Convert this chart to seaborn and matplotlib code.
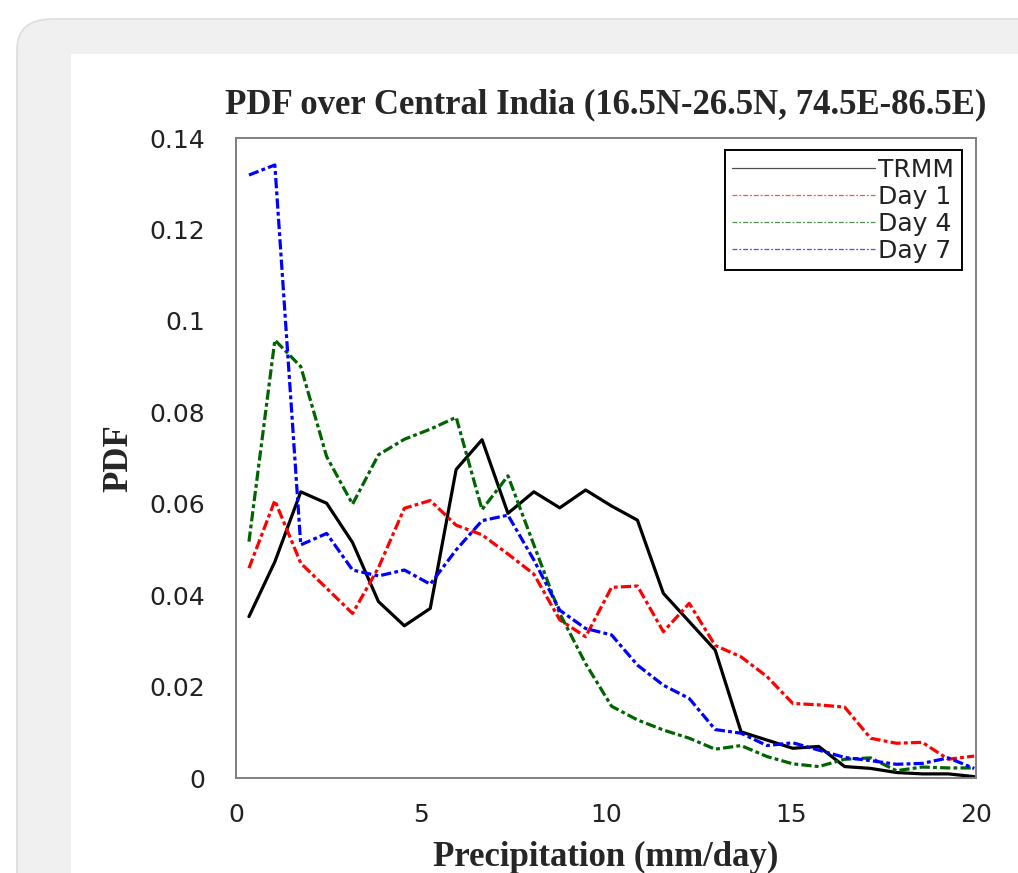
import numpy as np
import pandas as pd
import matplotlib
matplotlib.use('Agg')
import matplotlib.pyplot as plt
import seaborn as sns
from matplotlib.patches import FancyBboxPatch, Rectangle
from matplotlib.lines import Line2D

# precipitation bin centres (mm/day)
precip = [0.35, 1.05, 1.75, 2.45, 3.15, 3.85, 4.55, 5.25, 5.95, 6.65,
          7.35, 8.05, 8.75, 9.45, 10.15, 10.85, 11.55, 12.25, 12.95, 13.65,
          14.35, 15.05, 15.75, 16.45, 17.15, 17.85, 18.55, 19.25, 19.95]

trmm = [0.0353, 0.0473, 0.0626, 0.0601, 0.0515, 0.0386, 0.0333, 0.0371, 0.0675, 0.0740,
        0.0579, 0.0626, 0.0591, 0.0630, 0.0595, 0.0564, 0.0404, 0.0342, 0.0280, 0.0101,
        0.0083, 0.0065, 0.0069, 0.0025, 0.0021, 0.0012, 0.0009, 0.0009, 0.0003]
day1 = [0.0459, 0.0607, 0.0470, 0.0415, 0.0360, 0.0460, 0.0590, 0.0607, 0.0553, 0.0532,
        0.0490, 0.0446, 0.0346, 0.0309, 0.0417, 0.0420, 0.0320, 0.0382, 0.0290, 0.0265,
        0.0222, 0.0163, 0.0160, 0.0155, 0.0087, 0.0076, 0.0078, 0.0041, 0.0048]
day4 = [0.0517, 0.0958, 0.0900, 0.0703, 0.0599, 0.0707, 0.0741, 0.0763, 0.0789, 0.0587,
        0.0661, 0.0510, 0.0360, 0.0250, 0.0157, 0.0127, 0.0105, 0.0087, 0.0063, 0.0071,
        0.0047, 0.0031, 0.0025, 0.0041, 0.0044, 0.0016, 0.0024, 0.0022, 0.0022]
day7 = [0.1319, 0.1341, 0.0510, 0.0535, 0.0455, 0.0442, 0.0455, 0.0424, 0.0499, 0.0563,
        0.0575, 0.0477, 0.0367, 0.0327, 0.0313, 0.0247, 0.0203, 0.0174, 0.0106, 0.0098,
        0.0071, 0.0077, 0.0061, 0.0045, 0.0038, 0.0030, 0.0032, 0.0044, 0.0021]

series_names = ['TRMM', 'Day 1', 'Day 4', 'Day 7']
series_colors = ['black', '#ff0000', '#006400', '#0000ff']

x_ticks = [0, 5, 10, 15, 20]
y_ticks = [0, 0.02, 0.04, 0.06, 0.08, 0.1, 0.12, 0.14]
y_labels = ['0', '0.02', '0.04', '0.06', '0.08', '0.1', '0.12', '0.14']

sns.set_style('white')
plt.rcParams['font.family'] = ['DejaVu Sans']

W, H = 1018, 873
fig = plt.figure(figsize=(W / 100, H / 100), dpi=100)

# page background: grey rounded card with white inner panel
fig.patches.append(FancyBboxPatch((17 / W, 1 - 19 / H - 2), 2, 2,
                                  boxstyle='round,pad=0,rounding_size=0.035',
                                  transform=fig.transFigure, facecolor='#f0f0f0',
                                  edgecolor='#dddddd', linewidth=1.2, zorder=-2))
fig.patches.append(Rectangle((71 / W, -0.1), 1, 1 - 54 / H + 0.1,
                             transform=fig.transFigure, facecolor='white',
                             edgecolor='none', zorder=-1))

ax = fig.add_axes([236 / W, 1 - 778 / H, 740 / W, 640 / H])
ax.set_facecolor('white')

df = pd.DataFrame({'precip': precip, 'TRMM': trmm, 'Day 1': day1,
                   'Day 4': day4, 'Day 7': day7})

for name, col in zip(series_names, series_colors):
    sns.lineplot(data=df, x='precip', y=name, ax=ax, color=col, lw=2.3,
                 legend=False)
    if name != 'TRMM':
        ax.lines[-1].set_dashes((3.2, 1, 1.2, 1))

ax.set_xlim(0, 20)
ax.set_ylim(0, 0.14)
ax.set_xticks(x_ticks)
ax.set_xticklabels([str(t) for t in x_ticks])
ax.set_yticks(y_ticks)
ax.set_yticklabels(y_labels)
ax.tick_params(axis='both', direction='inout', length=10, width=1.2,
               color='#808080', labelsize=18, labelcolor='#222222')
ax.tick_params(axis='x', pad=13)
ax.tick_params(axis='y', pad=17)
for s in ax.spines.values():
    s.set_color('#808080')
    s.set_linewidth(1.4)

ax.set_xlabel('Precipitation (mm/day)', family='Liberation Serif',
              fontweight='bold', fontsize=25, labelpad=10)
ax.set_ylabel('PDF', family='Liberation Serif', fontweight='bold',
              fontsize=25, labelpad=10)
ax.set_title('PDF over Central India (16.5N-26.5N, 74.5E-86.5E)',
             family='Liberation Serif', fontweight='bold', fontsize=25, pad=18)

handles = []
for name, col in zip(series_names, series_colors):
    if name == 'TRMM':
        handles.append(Line2D([], [], color=col, lw=0.9, alpha=0.7))
    else:
        handles.append(Line2D([], [], color=col, lw=0.9, alpha=0.7,
                              dashes=(4, 1.5, 1.5, 1.5)))
leg = ax.legend(handles, series_names, loc='upper right',
                bbox_to_anchor=(0.981, 0.981), borderaxespad=0,
                fontsize=18, handlelength=5.7, handletextpad=0.15,
                labelspacing=0.12, borderpad=0.3, fancybox=False,
                framealpha=1, edgecolor='black')
leg.get_frame().set_linewidth(1.4)
for t in leg.get_texts():
    t.set_color('#222222')

fig.savefig('out.png', dpi=100)
